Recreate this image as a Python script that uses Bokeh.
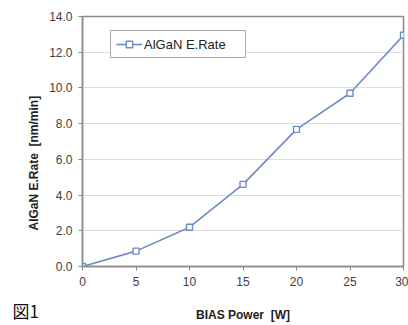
from bokeh.plotting import figure
from bokeh.layouts import column, row
from bokeh.models import Range1d, NumeralTickFormatter, FixedTicker, Title
from bokeh.core.properties import value
from bokeh.embed import file_html
from bokeh.resources import INLINE

bias_power = [0, 5, 10, 15, 20, 25, 30]
etch_rate = [0.0, 0.86, 2.2, 4.6, 7.68, 9.7, 12.95]
x_ticks = [0, 5, 10, 15, 20, 25, 30]
y_ticks = [0, 2, 4, 6, 8, 10, 12, 14]
series_name = "AlGaN E.Rate"
x_title = "BIAS Power\u00a0 [W]"
y_title = "AlGaN E.Rate\u00a0 [nm/min]"
fig_caption = "図1"

FONT = "Liberation Sans"
LINE = "#6c8cc2"
W = 408

p = figure(width=W, height=296, output_backend="svg", toolbar_location=None,
           x_range=Range1d(0, 30), y_range=Range1d(0, 14),
           min_border_left=82, min_border_right=5, min_border_top=16, min_border_bottom=30)

p.outline_line_color = "#8a8a8a"
p.outline_line_width = 1.5
p.xgrid.grid_line_color = None
p.ygrid.grid_line_color = "#dcdcdc"
p.ygrid.grid_line_width = 1

for ax in (p.xaxis[0], p.yaxis[0]):
    ax.axis_line_color = "#8a8a8a"
    ax.axis_line_width = 1.5
    ax.major_tick_line_color = "#8a8a8a"
    ax.major_tick_in = 0
    ax.major_tick_out = 4
    ax.minor_tick_line_color = None
    ax.major_label_text_font = FONT
    ax.major_label_text_font_size = "12px"
    ax.major_label_text_color = "#404040"

p.xaxis.ticker = FixedTicker(ticks=x_ticks)
p.yaxis.ticker = FixedTicker(ticks=y_ticks)
p.yaxis.formatter = NumeralTickFormatter(format="0.0")
p.xaxis.major_label_standoff = 6
p.yaxis.major_label_standoff = 6

p.line(bias_power, etch_rate, line_color=LINE, line_width=1.6, legend_label=series_name)
p.scatter(bias_power, etch_rate, marker="square", size=6, line_color=LINE,
          fill_color="white", line_width=1.4, legend_label=series_name)

lg = p.legend[0]
lg.location = (28, 208)
lg.border_line_color = "#555555"
lg.border_line_width = 1
lg.padding = 5
lg.margin = 0
lg.glyph_width = 26
lg.glyph_height = 16
lg.label_height = 16
lg.label_standoff = 2
lg.label_width = 96
lg.label_text_font = FONT
lg.label_text_font_size = "13px"
lg.label_text_color = "#222222"
lg.background_fill_color = "white"

yt = Title(text=y_title, align="left", offset=36, standoff=11,
           text_font=FONT, text_font_size="12px", text_font_style="bold",
           text_color="#222222")
p.add_layout(yt, "left")

# bottom strip holding the figure caption and the x-axis title on one row
q = figure(width=W, height=29, output_backend="svg", toolbar_location=None,
           x_range=Range1d(0, W), y_range=Range1d(0, 29),
           x_axis_type=None, y_axis_type=None,
           min_border_left=0, min_border_right=0, min_border_top=0, min_border_bottom=0)
q.outline_line_color = None
q.grid.grid_line_color = None
q.text(x=[12], y=[15], text=[fig_caption], text_font=value("Noto Sans CJK JP"),
       text_font_size="17px", text_align="left", text_baseline="middle", text_color="#111111")
q.text(x=[(82 + 403) / 2], y=[11], text=[x_title], text_font=value(FONT),
       text_font_size="12px", text_font_style="bold", text_align="center",
       text_baseline="middle", text_color="#222222")

layout = column(p, row(q, spacing=0), spacing=0)
open("out.html", "w").write(file_html(layout, INLINE))
